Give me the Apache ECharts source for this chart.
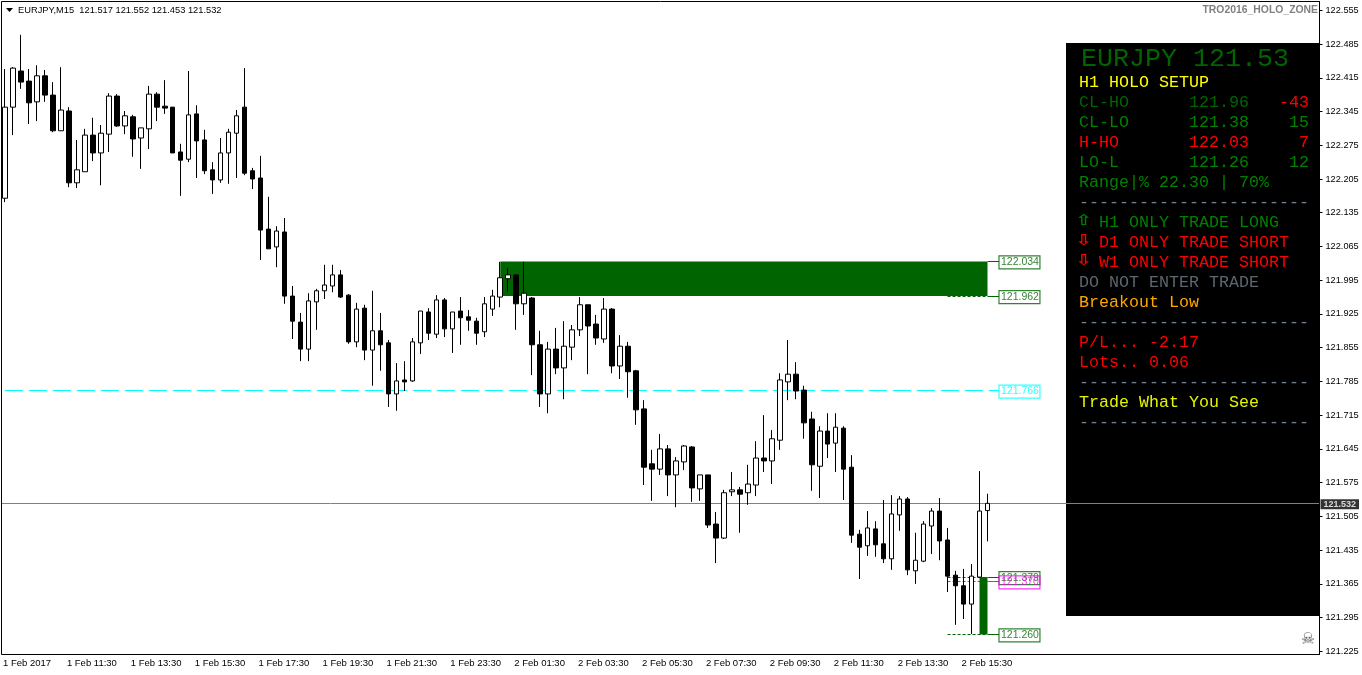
<!DOCTYPE html>
<html><head><meta charset="utf-8">
<style>html,body{margin:0;padding:0;background:#fff}#c{width:1362px;height:675px}</style>
<script src="https://cdn.jsdelivr.net/npm/echarts@6/dist/echarts.min.js"></script>
</head><body><div id="c"></div>
<script>
const opens=[122.165,122.354,122.429,122.408,122.365,122.419,122.379,122.305,122.346,122.197,122.220,122.296,122.259,122.298,122.377,122.315,122.334,122.290,122.309,122.381,122.356,122.354,122.261,122.246,122.340,122.286,122.224,122.203,122.259,122.300,122.354,122.222,122.207,122.101,122.064,122.095,121.962,121.908,121.852,121.950,121.973,121.983,122.006,121.964,121.867,121.937,121.850,121.890,121.865,121.759,121.788,121.786,121.865,121.929,121.883,121.954,121.894,121.931,121.919,121.910,121.888,121.935,121.960,121.998,122.006,121.946,121.958,121.861,121.759,121.852,121.813,121.856,121.892,121.944,121.904,121.873,121.935,121.817,121.858,121.807,121.728,121.614,121.603,121.645,121.591,121.618,121.649,121.562,121.591,121.489,121.460,121.556,121.560,121.554,121.570,121.626,121.620,121.663,121.784,121.800,121.767,121.707,121.609,121.682,121.657,121.688,121.607,121.468,121.444,121.479,121.448,121.417,121.508,121.541,121.392,121.412,121.485,121.516,121.456,121.383,121.361,121.323,121.379,121.517];
const closes=[122.354,122.435,122.406,122.363,122.419,122.379,122.305,122.348,122.197,122.224,122.296,122.259,122.300,122.377,122.315,122.336,122.288,122.311,122.381,122.354,122.352,122.259,122.244,122.338,122.284,122.222,122.203,122.259,122.302,122.336,122.217,122.205,122.099,122.060,122.097,121.962,121.910,121.852,121.952,121.973,121.985,122.006,121.960,121.867,121.935,121.850,121.890,121.861,121.759,121.786,121.784,121.867,121.931,121.885,121.954,121.894,121.929,121.917,121.912,121.885,121.946,121.962,122.000,122.006,121.946,121.968,121.861,121.759,121.852,121.813,121.858,121.892,121.944,121.900,121.875,121.935,121.817,121.858,121.805,121.726,121.607,121.603,121.645,121.591,121.620,121.651,121.564,121.591,121.487,121.460,121.554,121.560,121.551,121.572,121.626,121.620,121.666,121.788,121.800,121.765,121.699,121.612,121.682,121.655,121.690,121.603,121.466,121.441,121.481,121.446,121.417,121.510,121.541,121.394,121.414,121.489,121.516,121.454,121.381,121.361,121.323,121.381,121.516,121.532];
const highs=[122.433,122.437,122.504,122.433,122.441,122.431,122.406,122.437,122.354,122.286,122.309,122.332,122.317,122.383,122.381,122.346,122.338,122.311,122.398,122.385,122.410,122.354,122.278,122.429,122.358,122.307,122.240,122.290,122.309,122.348,122.435,122.228,122.253,122.168,122.107,122.124,121.983,121.927,121.968,121.977,122.027,122.027,122.016,121.966,121.948,121.944,121.973,121.927,121.871,121.823,121.827,121.875,121.931,121.937,121.964,121.958,121.929,121.960,121.933,121.917,121.960,121.975,122.033,122.020,122.006,122.033,121.960,121.890,121.867,121.896,121.910,121.902,121.960,121.944,121.923,121.958,121.937,121.881,121.867,121.809,121.746,121.643,121.676,121.653,121.628,121.653,121.651,121.591,121.591,121.514,121.560,121.597,121.566,121.612,121.661,121.715,121.684,121.802,121.871,121.825,121.776,121.722,121.692,121.719,121.719,121.692,121.632,121.477,121.516,121.495,121.539,121.549,121.547,121.545,121.471,121.495,121.522,121.543,121.481,121.392,121.396,121.406,121.599,121.552];
const lows=[122.157,122.296,122.392,122.319,122.325,122.365,122.302,122.305,122.188,122.186,122.220,122.242,122.192,122.261,122.313,122.298,122.251,122.226,122.267,122.325,122.340,122.259,122.170,122.240,122.207,122.215,122.174,122.197,122.195,122.207,122.213,122.184,122.037,122.060,122.022,121.946,121.873,121.827,121.827,121.892,121.956,121.970,121.958,121.863,121.856,121.829,121.776,121.807,121.732,121.724,121.765,121.784,121.842,121.871,121.875,121.877,121.844,121.861,121.890,121.861,121.877,121.921,121.939,121.970,121.892,121.923,121.798,121.732,121.719,121.800,121.748,121.829,121.879,121.800,121.861,121.865,121.802,121.790,121.751,121.695,121.570,121.537,121.591,121.547,121.524,121.601,121.535,121.537,121.481,121.408,121.458,121.547,121.471,121.529,121.547,121.597,121.572,121.643,121.746,121.748,121.666,121.558,121.543,121.626,121.597,121.539,121.450,121.375,121.423,121.421,121.408,121.394,121.475,121.383,121.365,121.410,121.427,121.414,121.348,121.280,121.292,121.261,121.379,121.453];

const timeLabels=["1 Feb 2017","1 Feb 11:30","1 Feb 13:30","1 Feb 15:30","1 Feb 17:30","1 Feb 19:30","1 Feb 21:30","1 Feb 23:30","2 Feb 01:30","2 Feb 03:30","2 Feb 05:30","2 Feb 07:30","2 Feb 09:30","2 Feb 11:30","2 Feb 13:30","2 Feb 15:30"];
const priceTicks=[122.555,122.485,122.415,122.345,122.275,122.205,122.135,122.065,121.995,121.925,121.855,121.785,121.715,121.645,121.575,121.505,121.435,121.365,121.295,121.225];

const holoHigh=122.034, holoClose=121.962, holoLow=121.260, holoOpen=121.379, pivotLevel=121.370, midLevel=121.766, bidPrice=121.532;
const headerLine="EURJPY,M15  121.517 121.552 121.453 121.532";
const panelTitle="EURJPY 121.53";
const indicatorName="TRO2016_HOLO_ZONE";
const panelLeft=["H1 HOLO SETUP","CL-HO","CL-LO","H-HO","LO-L","Range|% 22.30 | 70%","-----------------------","","","","DO NOT ENTER TRADE","Breakout Low","-----------------------","P/L... -2.17","Lots.. 0.06","-----------------------","Trade What You See","-----------------------"];
const panelMid=["","121.96","121.38","122.03","121.26"];
const panelRight=["","-43","15","7","12"];
const trendRows=["H1 ONLY TRADE LONG","D1 ONLY TRADE SHORT","W1 ONLY TRADE SHORT"];
const trendArrows=["\u21E7","\u21E9","\u21E9"];

const DG='#006400',G='#008000',R='#ff0000',Y='#ffff00',SL='#708090',OR='#ffa500',GY='#5c6670',CY='#00ffff',MG='#ff00ff';
const leftColors=[Y,DG,G,R,G,G,SL,G,R,R,GY,OR,SL,R,R,SL,'#e4f500',SL];
const rightColors=['',R,G,R,G];
const midColors=['',DG,G,R,G];

const N=165;
const categories=[];for(let i=0;i<N;i++)categories.push(String(i));
const candles=opens.map((o,i)=>[o,closes[i],lows[i],highs[i]]);
const lastI=opens.length-1;
const tagX=124.4375;
const mono='"Liberation Mono",monospace';
const sans='"Liberation Sans",Arial,sans-serif';

function seg(x0,x1,p,color,type){return [{xAxis:x0,yAxis:p,lineStyle:{color:color,type:type,width:1},label:{show:false}},{xAxis:x1,yAxis:p}];}
function tag(p,color){return {value:[tagX,p],label:{show:true,position:'right',distance:0,offset:[0,1],formatter:p.toFixed(3),color:color,fontFamily:sans,fontSize:10.5,lineHeight:11,borderColor:color,borderWidth:1.2,padding:[1,1,1,2]}};}

const graphics=[
 {type:'rect',z:200,silent:true,shape:{x:0,y:0,width:1.5,height:675},style:{fill:'#fff'}},
 {type:'line',z:201,silent:true,shape:{x1:1.5,y1:1.5,x2:1319.5,y2:1.5},style:{stroke:'#000',lineWidth:1}},
 {type:'line',z:201,silent:true,shape:{x1:1.5,y1:1.5,x2:1.5,y2:654.5},style:{stroke:'#000',lineWidth:1}},
 {type:'polygon',z:201,silent:true,shape:{points:[[6,8],[13,8],[9.5,12]]},style:{fill:'#000'}},
 {type:'text',z:201,silent:true,x:1318,y:10,style:{text:indicatorName,fill:'#808080',font:'bold 10.4px '+sans,textAlign:'right',textVerticalAlign:'middle'}},
 {type:'text',z:201,silent:true,x:1308,y:640,style:{text:'\u2620',fill:'#5a5a5a',font:'16px "DejaVu Sans"',textAlign:'center',textVerticalAlign:'middle'}},
 {type:'rect',z:100,silent:true,shape:{x:1066,y:43,width:253.5,height:573},style:{fill:'#000'}},
 {type:'text',z:101,silent:true,x:1081,y:58.5,style:{text:panelTitle,fill:DG,font:'26.67px '+mono,textVerticalAlign:'middle'}}
];
const ROW0=83,ROWH=20;
panelLeft.forEach((t,i)=>{if(t)graphics.push({type:'text',z:101,silent:true,x:1079,y:ROW0+i*ROWH,style:{text:t,fill:leftColors[i],font:'16.67px '+mono,textVerticalAlign:'middle'}});});
panelMid.forEach((t,i)=>{if(t)graphics.push({type:'text',z:101,silent:true,x:1189,y:ROW0+i*ROWH,style:{text:t,fill:midColors[i],font:'16.67px '+mono,textVerticalAlign:'middle'}});});
panelRight.forEach((t,i)=>{if(t)graphics.push({type:'text',z:101,silent:true,x:1309,y:ROW0+i*ROWH,style:{text:t,fill:rightColors[i],font:'16.67px '+mono,textAlign:'right',textVerticalAlign:'middle'}});});
trendRows.forEach((t,i)=>{const c=leftColors[7+i],y=ROW0+(7+i)*ROWH;
 graphics.push({type:'text',z:101,silent:true,x:1099,y:y,style:{text:t,fill:c,font:'16.67px '+mono,textVerticalAlign:'middle'}});
 graphics.push({type:'text',z:101,silent:true,x:1084,y:y-1.5,scaleX:1.35,style:{text:trendArrows[i],fill:c,font:'bold 15px "DejaVu Sans"',textAlign:'center',textVerticalAlign:'middle'}});});

const chart=echarts.init(document.getElementById('c'),null,{renderer:'canvas'});
chart.setOption({
 animation:false,backgroundColor:'#fff',
 title:{text:headerLine,left:18,top:4,padding:0,textStyle:{fontFamily:sans,fontSize:9.3,fontWeight:'normal',color:'#000',lineHeight:12}},
 grid:{left:-1,top:1.5,width:8*N,height:653,containLabel:false},
 xAxis:[{type:'category',data:categories,boundaryGap:true,
   axisLine:{onZero:false,lineStyle:{color:'#000',width:1}},
   axisTick:{length:3,alignWithLabel:true,interval:(i)=>i%8===0&&i<=lastI,lineStyle:{color:'#000'}},
   axisLabel:{interval:(i)=>i%8===0&&i<=lastI,align:'left',margin:4,padding:[0,0,0,-2],color:'#000',fontFamily:sans,fontSize:9.5,formatter:(v,i)=>timeLabels[i/8]||''},
   splitLine:{show:false}},
  {type:'value',min:-0.5,max:N-0.5,show:false,axisLine:{onZero:false},splitLine:{show:false}}],
 yAxis:[{type:'value',position:'right',offset:0.5,min:121.2184,max:122.5732,scale:true,
   axisLine:{show:true,onZero:false,lineStyle:{color:'#000',width:1}},
   axisTick:{show:true,length:3,customValues:priceTicks,lineStyle:{color:'#000'}},
   axisLabel:{customValues:priceTicks,margin:6,padding:[2,0,0,0],color:'#000',fontFamily:sans,fontSize:9.2,formatter:(v)=>v.toFixed(3)},
   splitLine:{show:false}}],
 series:[
  {type:'line',name:'levels',xAxisIndex:1,yAxisIndex:0,data:[],z:1,silent:true,
   markArea:{silent:true,z:2,itemStyle:{color:DG,opacity:1,borderWidth:0},label:{show:false},
     data:[[{xAxis:62,yAxis:holoHigh},{xAxis:lastI,yAxis:holoClose}],
           [{xAxis:lastI-1,yAxis:holoOpen},{xAxis:lastI,yAxis:holoLow}]]},
   markLine:{silent:true,z:1,symbol:'none',animation:false,
     data:[
      seg(-0.5,N-0.5,bidPrice,'#808080','solid'),
      seg(0,tagX,midLevel,CY,[18,6]),
      seg(118,lastI,holoClose,DG,[3,2]),
      seg(lastI,tagX,holoHigh,DG,'solid'),
      seg(lastI,tagX,holoClose,DG,'solid'),
      seg(118,lastI,pivotLevel,MG,[3,2]),
      seg(lastI,tagX,pivotLevel,MG,'solid'),
      seg(118,lastI,holoOpen,DG,[3,2]),
      seg(lastI,tagX,holoOpen,DG,'solid'),
      seg(118,lastI,holoLow,DG,[3,2]),
      seg(lastI,tagX,holoLow,DG,'solid')
     ]}},
  {type:'line',name:'bidOverPanel',xAxisIndex:1,yAxisIndex:0,data:[],z:150,silent:true,
   markLine:{silent:true,z:150,symbol:'none',animation:false,
     data:[seg(132.8,N-0.5,bidPrice,'#808080','solid')]}},
  {type:'candlestick',name:'EURJPY',xAxisIndex:0,yAxisIndex:0,data:candles,z:5,barWidth:5,silent:true,clip:false,
   itemStyle:{color:'#fff',color0:'#000',borderColor:'#000',borderColor0:'#000',borderWidth:1}},
  {type:'scatter',name:'levelTags',xAxisIndex:1,yAxisIndex:0,symbolSize:0,z:160,silent:true,clip:false,
   data:[tag(holoHigh,DG),tag(holoClose,DG),tag(midLevel,CY),tag(holoOpen,DG),tag(pivotLevel,MG),tag(holoLow,DG),
    {value:[N-0.5,bidPrice],label:{show:true,position:'right',distance:1.5,offset:[0,1],formatter:bidPrice.toFixed(3),color:'#fff',fontFamily:sans,fontWeight:'bold',fontSize:9,lineHeight:10,backgroundColor:'#000',padding:[0,3,0,3]}}]}
 ],
 graphic:graphics
});
</script></body></html>
